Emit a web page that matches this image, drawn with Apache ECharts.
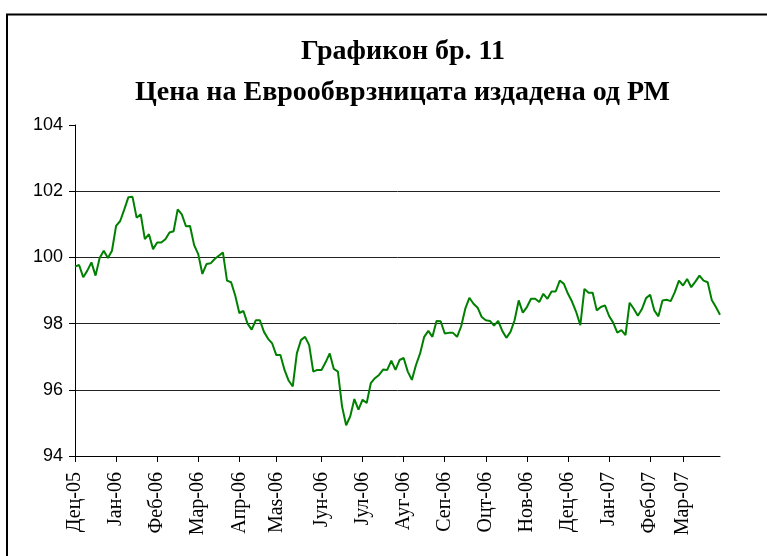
<!DOCTYPE html>
<html>
<head>
<meta charset="utf-8">
<script src="https://cdn.jsdelivr.net/npm/echarts@6/dist/echarts.min.js"></script>
<style>
  html, body { margin: 0; padding: 0; background: #fff; }
  #chart-container { width: 767px; height: 556px; }
</style>
</head>
<body>
<div id="chart-container"></div>
<script>
var titleLine1 = "Графикон бр. 11";
var titleLine2 = "Цена на Еврообврзницата издадена од РМ";

var monthLabels = ["Дец-05", "Јан-06", "Феб-06", "Мар-06", "Апр-06", "Маѕ-06", "Јун-06", "Јул-06",
  "Ауг-06", "Сеп-06", "Оцт-06", "Нов-06", "Дец-06", "Јан-07", "Феб-07", "Мар-07"];
// index of the first observation of each month in prices
var monthStart = [0, 10, 20, 30, 40, 49, 60, 70, 80, 90, 100, 110, 120, 130, 140, 148];

var prices = [
  // Dec-05
  99.72, 99.77, 99.4, 99.6, 99.85, 99.45, 99.98, 100.2, 99.98, 100.2,
  // Jan-06
  100.95, 101.1, 101.45, 101.82, 101.83, 101.2, 101.3, 100.55, 100.7, 100.25,
  // Feb-06
  100.45, 100.45, 100.55, 100.75, 100.79, 101.45, 101.3, 100.94, 100.95, 100.37,
  // Mar-06
  100.1, 99.5, 99.8, 99.82, 99.95, 100.05, 100.15, 99.3, 99.25, 98.85,
  // Apr-06
  98.32, 98.38, 98.0, 97.82, 98.1, 98.1, 97.75, 97.54, 97.4,
  // May-06
  97.05, 97.05, 96.6, 96.28, 96.1, 97.1, 97.5, 97.6, 97.35, 96.55, 96.6,
  // Jun-06
  96.6, 96.83, 97.1, 96.63, 96.55, 95.5, 94.93, 95.2, 95.72, 95.4,
  // Jul-06
  95.7, 95.6, 96.2, 96.35, 96.45, 96.61, 96.6, 96.88, 96.6, 96.9,
  // Aug-06
  96.96, 96.55, 96.3, 96.75, 97.1, 97.6, 97.78, 97.6, 98.08, 98.07,
  // Sep-06
  97.7, 97.72, 97.72, 97.6, 97.92, 98.45, 98.78, 98.6, 98.48, 98.2,
  // Oct-06
  98.1, 98.08, 97.94, 98.08, 97.78, 97.57, 97.75, 98.1, 98.7, 98.33,
  // Nov-06
  98.5, 98.75, 98.75, 98.65, 98.9, 98.75, 98.97, 98.97, 99.3, 99.2,
  // Dec-06
  98.9, 98.66, 98.35, 97.95, 99.05, 98.93, 98.93, 98.4, 98.5, 98.55,
  // Jan-07
  98.23, 98.03, 97.73, 97.8, 97.65, 98.63, 98.45, 98.24, 98.44, 98.77,
  // Feb-07
  98.87, 98.4, 98.22, 98.7, 98.72, 98.68, 98.95, 99.3,
  // Mar-07
  99.15, 99.35, 99.1, 99.27, 99.45, 99.3, 99.25, 98.71, 98.5, 98.27
];

var yMin = 94, yMax = 104, yStep = 2;

// category per observation, month name on the first day of each month
var categories = prices.map(function (v, i) {
  var m = monthStart.indexOf(i);
  return m >= 0 ? monthLabels[m] : "";
});
function isMonthStart(index) {
  return monthStart.indexOf(index) >= 0;
}

var dom = document.getElementById("chart-container");
var myChart = echarts.init(dom, null, { renderer: "canvas" });

var option = {
  animation: false,
  backgroundColor: "#fff",
  graphic: [{
    type: "rect",
    shape: { x: 7, y: 14.5, width: 820, height: 600 },
    style: { fill: null, stroke: "#000", lineWidth: 2 }
  }],
  title: [
    {
      text: titleLine1, left: 296, top: 33,
      textStyle: { fontFamily: "Liberation Serif", fontWeight: "bold", fontSize: 28, color: "#000" }
    },
    {
      text: titleLine2, left: 130, top: 74,
      textStyle: { fontFamily: "Liberation Serif", fontWeight: "bold", fontSize: 28, color: "#000" }
    }
  ],
  grid: { left: 75, right: 47, top: 125, bottom: 100, containLabel: false },
  xAxis: {
    type: "category",
    data: categories,
    boundaryGap: false,
    axisLine: { lineStyle: { color: "#000", width: 1 } },
    axisTick: { interval: isMonthStart, length: 6, lineStyle: { color: "#000" } },
    axisLabel: {
      interval: isMonthStart, rotate: 90, margin: 16,
      fontFamily: "Liberation Serif", fontSize: 20, color: "#000"
    },
    splitLine: { show: false }
  },
  yAxis: {
    type: "value",
    min: yMin, max: yMax, interval: yStep,
    axisLine: { show: true, lineStyle: { color: "#000", width: 1 } },
    axisTick: { show: true, length: 6, lineStyle: { color: "#000" } },
    axisLabel: { margin: 12, fontFamily: "Liberation Sans", fontSize: 18, color: "#000" },
    splitLine: {
      show: true,
      lineStyle: { color: "#222", width: 1 },
      showMaxLine: false
    }
  },
  series: [{
    type: "line",
    data: prices,
    showSymbol: false,
    symbol: "none",
    lineStyle: { color: "#008000", width: 2 },
    itemStyle: { color: "#008000" }
  }]
};

myChart.setOption(option);
window.addEventListener("resize", myChart.resize);
</script>
</body>
</html>
